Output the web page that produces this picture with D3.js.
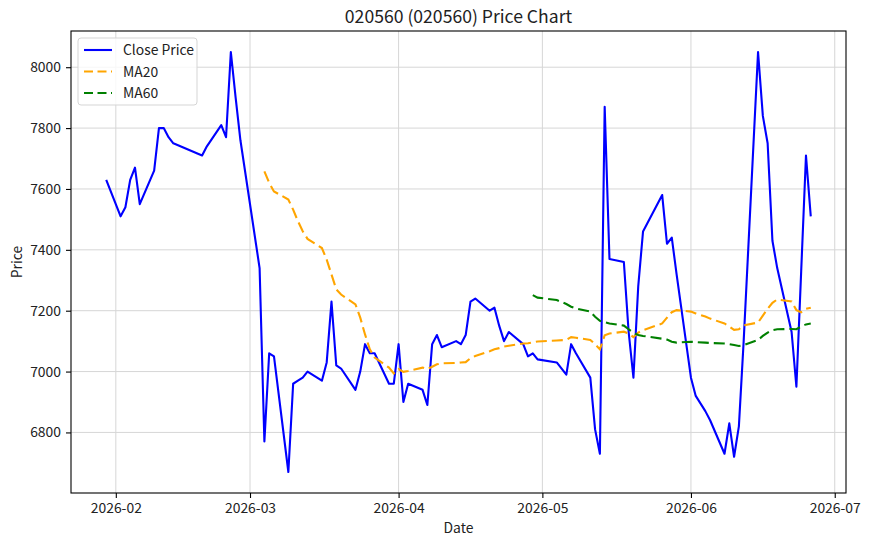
<!DOCTYPE html>
<html>
<head>
<meta charset="utf-8">
<script src="https://cdn.jsdelivr.net/npm/d3@7"></script>
<style>
  body { margin: 0; background: #fff; }
  text { font-family: "Noto Sans CJK KR", "Noto Sans", sans-serif; fill: #222; }
</style>
</head>
<body>
<div id="chart"></div>
<script>
// trading days, Jan 30 - Jun 26 2026
const dates = [
  "2026-01-30",
  "2026-02-02","2026-02-03","2026-02-04","2026-02-05","2026-02-06",
  "2026-02-09","2026-02-10","2026-02-11","2026-02-12","2026-02-13",
  "2026-02-19","2026-02-20",
  "2026-02-23","2026-02-24","2026-02-25","2026-02-26","2026-02-27",
  "2026-03-03","2026-03-04","2026-03-05","2026-03-06",
  "2026-03-09","2026-03-10","2026-03-11","2026-03-12","2026-03-13",
  "2026-03-16","2026-03-17","2026-03-18","2026-03-19","2026-03-20",
  "2026-03-23","2026-03-24","2026-03-25","2026-03-26","2026-03-27",
  "2026-03-30","2026-03-31","2026-04-01","2026-04-02","2026-04-03",
  "2026-04-06","2026-04-07","2026-04-08","2026-04-09","2026-04-10",
  "2026-04-13","2026-04-14","2026-04-15","2026-04-16","2026-04-17",
  "2026-04-20","2026-04-21","2026-04-22","2026-04-23","2026-04-24",
  "2026-04-27","2026-04-28","2026-04-29","2026-04-30",
  "2026-05-04","2026-05-06","2026-05-07","2026-05-08",
  "2026-05-11","2026-05-12","2026-05-13","2026-05-14","2026-05-15",
  "2026-05-18","2026-05-19","2026-05-20","2026-05-21","2026-05-22",
  "2026-05-26","2026-05-27","2026-05-28","2026-05-29",
  "2026-06-01","2026-06-02","2026-06-04","2026-06-05",
  "2026-06-08","2026-06-09","2026-06-10","2026-06-11","2026-06-12",
  "2026-06-15","2026-06-16","2026-06-17","2026-06-18","2026-06-19",
  "2026-06-22","2026-06-23","2026-06-24","2026-06-25","2026-06-26"
];

const closePrice = [
  7630,
  7510, 7540, 7630, 7670, 7550,
  7660, 7800, 7800, 7770, 7750,
  7710, 7740,
  7810, 7770, 8050, 7900, 7760,
  7340, 6770, 7060, 7050,
  6670, 6960, 6970, 6980, 7000,
  6970, 7030, 7230, 7020, 7010,
  6940, 7000, 7090, 7060, 7060,
  6960, 6960, 7090, 6900, 6960,
  6940, 6890, 7090, 7120, 7080,
  7100, 7090, 7120, 7230, 7240,
  7200, 7210, 7150, 7100, 7130,
  7090, 7050, 7060, 7040,
  7030, 6990, 7090, 7060,
  6980, 6810, 6730, 7870, 7370,
  7360, 7130, 6980, 7280, 7460,
  7580, 7420, 7440, 7320,
  6980, 6920, 6870, 6840,
  6730, 6830, 6720, 6820, 7100,
  8050, 7840, 7750, 7430, 7340,
  7130, 6950, 7330, 7710, 7510
];

// MA20 from 2026-03-04 on
const ma20 = [
  7658, 7620, 7592,
  7565, 7532, 7494, 7461, 7436,
  7406, 7368, 7319, 7270, 7253,
  7221, 7177, 7122, 7073, 7046,
  7013, 6994, 7008, 6999, 7002,
  7013, 7008, 7016, 7024, 7027,
  7028, 7030, 7031, 7044, 7051,
  7067, 7073, 7077, 7082, 7085,
  7092, 7093, 7096, 7099,
  7102, 7104, 7113, 7111,
  7104, 7090, 7073, 7119, 7125,
  7131, 7125, 7113, 7128, 7136,
  7158, 7177, 7195, 7202,
  7197, 7191, 7181, 7174,
  7158, 7148, 7137, 7139, 7152,
  7161, 7184, 7206, 7226, 7237,
  7230, 7202, 7195, 7206, 7210
];

// MA60 from 2026-04-29 on
const ma60 = [
  7251, 7243,
  7235, 7222, 7213, 7207,
  7197, 7180, 7167, 7162, 7158,
  7151, 7139, 7127, 7120, 7117,
  7108, 7105, 7098, 7095,
  7098, 7097, 7095, 7094,
  7092, 7090, 7087, 7084, 7087,
  7104, 7117, 7128, 7136, 7139,
  7140, 7139, 7148, 7155, 7158
];

const seriesNames = ["Close Price", "MA20", "MA60"];
const seriesColors = ["#0000ff", "#ffa500", "#008000"];
const yTicks = [6800, 7000, 7200, 7400, 7600, 7800, 8000];

const width = 871, height = 546;
const margin = {top: 31, right: 25, bottom: 53, left: 71};

const parse = d3.utcParse("%Y-%m-%d");
const days = dates.map(parse);

const closeData = days.map((d, i) => ({date: d, value: closePrice[i]}));
const ma20Data = ma20.map((v, i) => ({date: days[days.length - ma20.length + i], value: v}));
const ma60Data = ma60.map((v, i) => ({date: days[days.length - ma60.length + i], value: v}));

const svg = d3.select("#chart").append("svg")
    .attr("width", width)
    .attr("height", height);

// matplotlib-like 5% padding on both axes
const xExt = d3.extent(days);
const xPad = (xExt[1] - xExt[0]) * 0.05;
const allVals = closePrice.concat(ma20, ma60);
const yExt = d3.extent(allVals);
const yPad = (yExt[1] - yExt[0]) * 0.05;

const x = d3.scaleUtc()
    .domain([new Date(+xExt[0] - xPad), new Date(+xExt[1] + xPad)])
    .range([margin.left, width - margin.right]);

const y = d3.scaleLinear()
    .domain([yExt[0] - yPad, yExt[1] + yPad])
    .range([height - margin.bottom, margin.top]);

const x0 = margin.left, x1 = width - margin.right;
const y0 = height - margin.bottom, y1 = margin.top;

// grid
const monthTicks = d3.utcMonth.range(x.domain()[0], x.domain()[1]);

svg.append("g")
    .selectAll("line.vgrid")
    .data(monthTicks)
  .enter().append("line")
    .attr("x1", d => x(d)).attr("x2", d => x(d))
    .attr("y1", y0).attr("y2", y1)
    .attr("stroke", "#d6d6d6").attr("stroke-width", 1);

svg.append("g")
    .selectAll("line.hgrid")
    .data(yTicks)
  .enter().append("line")
    .attr("x1", x0).attr("x2", x1)
    .attr("y1", d => y(d)).attr("y2", d => y(d))
    .attr("stroke", "#d6d6d6").attr("stroke-width", 1);

// axes
const xAxis = svg.append("g")
    .attr("transform", `translate(0,${y0})`)
    .call(d3.axisBottom(x).tickValues(monthTicks).tickFormat(d3.utcFormat("%Y-%m")).tickSize(5).tickPadding(5));

const yAxis = svg.append("g")
    .attr("transform", `translate(${x0},0)`)
    .call(d3.axisLeft(y).tickValues(yTicks).tickFormat(d3.format("d")).tickSize(5).tickPadding(5));

[xAxis, yAxis].forEach(a => {
  a.select(".domain").remove();
  a.selectAll("line").attr("stroke", "#000").attr("stroke-width", 1.1);
  a.selectAll("text").style("font-size", "13.9px").attr("fill", "#222");
});

// lines
const line = d3.line()
    .x(d => x(d.date))
    .y(d => y(d.value));

const plot = svg.append("g");

plot.append("path")
    .datum(closeData)
    .attr("d", line)
    .attr("fill", "none")
    .attr("stroke", seriesColors[0])
    .attr("stroke-width", 2.1)
    .attr("stroke-linejoin", "round");

plot.append("path")
    .datum(ma20Data)
    .attr("d", line)
    .attr("fill", "none")
    .attr("stroke", seriesColors[1])
    .attr("stroke-width", 2.1)
    .attr("stroke-dasharray", "11,5");

plot.append("path")
    .datum(ma60Data)
    .attr("d", line)
    .attr("fill", "none")
    .attr("stroke", seriesColors[2])
    .attr("stroke-width", 2.1)
    .attr("stroke-dasharray", "11,5");

// frame
svg.append("rect")
    .attr("x", x0).attr("y", y1)
    .attr("width", x1 - x0).attr("height", y0 - y1)
    .attr("fill", "none")
    .attr("stroke", "#000")
    .attr("stroke-width", 1.1);

// title and axis labels
svg.append("text")
    .attr("x", (x0 + x1) / 2).attr("y", 23)
    .attr("text-anchor", "middle")
    .style("font-size", "17.6px")
    .text("020560 (020560) Price Chart");

svg.append("text")
    .attr("x", (x0 + x1) / 2).attr("y", 533)
    .attr("text-anchor", "middle")
    .style("font-size", "13.9px")
    .text("Date");

svg.append("text")
    .attr("transform", `translate(22,${(y0 + y1) / 2}) rotate(-90)`)
    .attr("text-anchor", "middle")
    .style("font-size", "13.9px")
    .text("Price");

// legend
const legend = svg.append("g");
legend.append("rect")
    .attr("x", 78).attr("y", 38)
    .attr("width", 119).attr("height", 67)
    .attr("rx", 3)
    .attr("fill", "#fff").attr("fill-opacity", 0.8)
    .attr("stroke", "#d5d5d5");

seriesNames.forEach((name, i) => {
  const ly = 50 + i * 21.5;
  legend.append("line")
      .attr("x1", 84).attr("x2", 112)
      .attr("y1", ly).attr("y2", ly)
      .attr("stroke", seriesColors[i])
      .attr("stroke-width", 2.1)
      .attr("stroke-dasharray", i === 0 ? null : "9,4.5");
  legend.append("text")
      .attr("x", 123).attr("y", ly + 5)
      .style("font-size", "13.9px")
      .text(name);
});
</script>
</body>
</html>
